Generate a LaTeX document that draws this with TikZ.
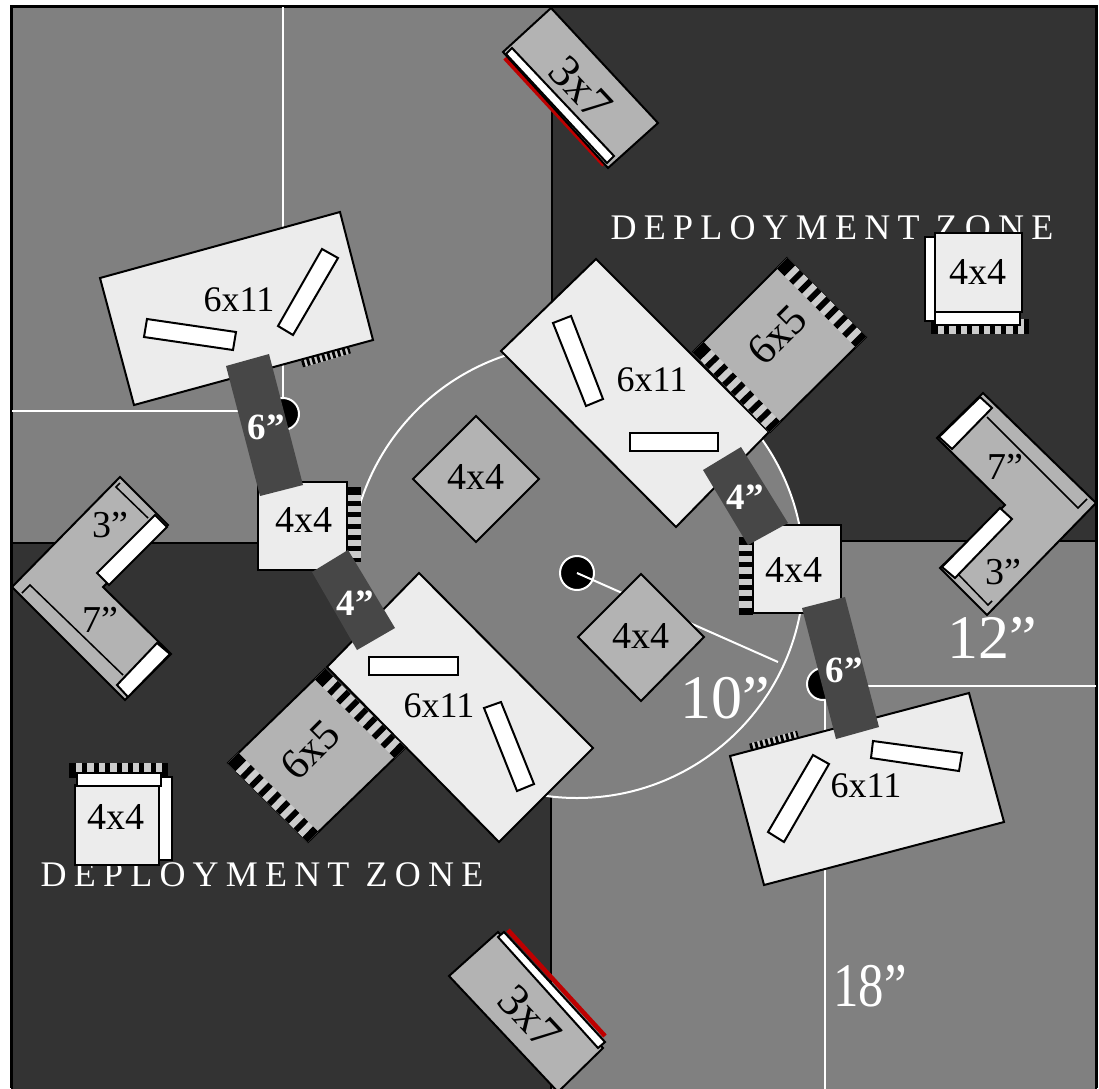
\documentclass[tikz,border=0pt]{standalone}
\usepackage{fontspec}
\setmainfont{Liberation Serif}
\newfontfamily\zonefont[LetterSpace=20]{Liberation Serif}
\definecolor{zonegrey}{HTML}{808080}
\definecolor{zonedark}{HTML}{333333}
\definecolor{matlight}{HTML}{ECECEC}
\definecolor{matmid}{HTML}{B3B3B3}
\definecolor{barlight}{HTML}{CCCCCC}
\definecolor{linkdark}{HTML}{474747}
\definecolor{redline}{HTML}{BE0000}

\begin{document}
\begin{tikzpicture}[
  x=1pt, y=-1pt,
  line join=miter,
  zonea/.style={fill=zonegrey, draw=black, line width=2pt},
  zoneb/.style={fill=zonedark, draw=black, line width=2pt},
  chalk/.style={draw=white, line width=2pt},
  dot/.style={draw=white, fill=black, line width=2pt},
  light/.style={draw=black, fill=matlight, line width=2pt},
  mid/.style={draw=black, fill=matmid, line width=2pt},
  slot/.style={draw=black, fill=white, line width=2pt},
  thin/.style={draw=black, line width=1.5pt},
  link/.style={fill=linkdark},
  red/.style={draw=redline, line width=4.5pt},
  base/.style={draw=barlight, line width=#1},
  barsbig/.style={draw=black, line width=15pt, dash pattern=on 11 off 6.5 on 5.8 off 6.7 on 5.8 off 6.7 on 5.8 off 6.7 on 5.8 off 6.7 on 5.8 off 6.7 on 5.8 off 6.7 on 5.8 off 6.7 on 20 off 20},
  barsmid/.style={draw=black, line width=14pt, dash pattern=on 8 off 6 on 5 off 6.3 on 5 off 6.3 on 5 off 6.3 on 5 off 6.3 on 5 off 6.3 on 20 off 20},
  barslong/.style={draw=black, line width=15pt, dash pattern=on 7 off 6.4 on 5 off 6.4 on 5 off 6.4 on 5 off 6.4 on 5 off 6.4 on 5 off 6.4 on 5 off 6.4 on 5 off 6.4 on 20 off 20},
  barssmall/.style={draw=black, line width=7pt, dash pattern=on 2.8 off 2.5},
  tag/.style={inner sep=0pt, font=\fontsize{38}{40}\selectfont},
  tagnarrow/.style={inner sep=0pt, font=\fontsize{36}{38}\selectfont},
  tagwall/.style={inner sep=0pt, font=\fontsize{46}{48}\selectfont},
  tagruin/.style={inner sep=0pt, font=\fontsize{43}{45}\selectfont},
  size/.style={inner sep=0pt, text=white, font=\bfseries\fontsize{37}{39}\selectfont},
  bigtag/.style={inner sep=0pt, text=white, font=\fontsize{62}{64}\selectfont},
  zone/.style={inner sep=0pt, text=white, font=\zonefont\fontsize{36}{38}\selectfont}
]
\useasboundingbox (0,0) rectangle (1099,1088);

% table quarters
\fill[black] (10,5) rectangle (1098,1088);
\draw[zonea] (12,7) rectangle (552,543);
\draw[zoneb] (552,7) rectangle (1096,541);
\draw[zoneb] (12,543) rectangle (551,1090);
\draw[zonea] (551,541) rectangle (1096,1090);
\draw[chalk] (283,7) -- (283,411) -- (12,411);
\draw[chalk] (825,1090) -- (825,686) -- (1096,686);

% ten inch ring and the three markers
\draw[chalk, fill=zonegrey] (577,571) circle (227);
\draw[dot] (283,414) circle (16);
\draw[dot] (823,684) circle (16);
\draw[dot] (577,573) circle (17);
\draw[chalk] (577,573) -- (778,662);

\node[zone] (zonetop) at (832,228) {DEPLOYMENT ZONE};
\node[zone] (zonebot) at (262,875) {DEPLOYMENT ZONE};

% top and bottom 3x7
\draw[red] (505,58) -- (604,165);
\draw[mid] (551,8) -- (658,123) -- (608,168) -- (503,52) -- cycle;
\draw[slot] (512,48) -- (614,156) -- (607,163) -- (506,54) -- cycle;
\node[tagwall, rotate=-47] (topwall) at (581,88) {3x7};
\draw[mid] (498,932) -- (449,976) -- (558,1092) -- (603,1048) -- cycle;
\draw[red] (508,930) -- (605,1036);
\draw[slot] (498,937) -- (504,932) -- (605,1042) -- (598,1048) -- cycle;
\node[tagwall, rotate=-47] (botwall) at (530,1017) {3x7};

% center diamonds
\draw[mid] (476,416) -- (539,479) -- (476,542) -- (413,479) -- cycle;
\node[tag] (centera) at (476,477) {4x4};
\draw[mid] (641,574) -- (704,637) -- (641,701) -- (578,637) -- cycle;
\node[tag] (centerb) at (641,636) {4x4};

% 4x4 beside the ring
\draw[base=14pt] (353.5,487) -- (353.5,562);
\draw[barsmid] (353.5,487) -- (353.5,562);
\draw[light] (258,482) rectangle (347,570);
\node[tag] (sidea) at (304,520) {4x4};
\draw[base=14pt] (746,537) -- (746,615);
\draw[barsmid] (746,537) -- (746,615);
\draw[light] (753,525) rectangle (841,613);
\node[tag] (sideb) at (794,570) {4x4};

% upper 6x11 pair
\draw[base=7pt] (302,364) -- (350,350);
\draw[barssmall] (302,364) -- (350,350);
\draw[light] (100,278) -- (340,212) -- (373,340) -- (134,405) -- cycle;
\draw[slot] (147,319) -- (236,332) -- (233,350) -- (144,337) -- cycle;
\draw[slot] (322,249) -- (338,258) -- (293,335) -- (278,326) -- cycle;
\node[tagnarrow] (bldga) at (239,300) {6x11};
\draw[base=7pt] (750,747) -- (798,734);
\draw[barssmall] (750,747) -- (798,734);
\draw[light] (730,756) -- (969,693) -- (1004,822) -- (764,885) -- cycle;
\draw[slot] (873,741) -- (962,753) -- (959,771) -- (871,758) -- cycle;
\draw[slot] (813,755) -- (829,764) -- (784,842) -- (768,832) -- cycle;
\node[tagnarrow] (bldgb) at (866,786) {6x11};

% 6x11 with 6x5 top right
\draw[light] (596,259) -- (769,432) -- (676,527) -- (501,351) -- cycle;
\draw[slot] (553,323) -- (571,316) -- (603,399) -- (586,406) -- cycle;
\draw[slot] (630,433) rectangle (718,451);
\node[tagnarrow] (bldgc) at (652,380) {6x11};
\draw[mid] (787,258) -- (866,337) -- (770,432) -- (693,352) -- cycle;
\draw[base=15pt] (782,263) -- (861,342);
\draw[barsbig] (782,263) -- (861,342);
\draw[base=15pt] (698,347) -- (775,427);
\draw[barsbig] (698,347) -- (775,427);
\node[tagruin, rotate=45] (ruina) at (777,335) {6x5};

% 6x11 with 6x5 bottom left
\draw[light] (419,573) -- (593,748) -- (499,842) -- (327,667) -- cycle;
\draw[slot] (369,657) rectangle (458,675);
\draw[slot] (484,708) -- (501,702) -- (534,784) -- (517,791) -- cycle;
\node[tagnarrow] (bldgd) at (439,706) {6x11};
\draw[mid] (325,669) -- (405,748) -- (308,842) -- (228,763) -- cycle;
\draw[base=15pt] (320,674) -- (400,753);
\draw[barsbig] (320,674) -- (400,753);
\draw[base=15pt] (233,758) -- (313,837);
\draw[barsbig] (233,758) -- (313,837);
\node[tagruin, rotate=45] (ruinb) at (310,750) {6x5};

% deployment 4x4s
\draw[base=15pt] (931,326.5) -- (1029,326.5);
\draw[barslong] (931,326.5) -- (1029,326.5);
\draw[slot] (925,237) rectangle (938,321);
\draw[light] (935,233) rectangle (1022,312);
\draw[slot] (935,312) rectangle (1020,325);
\node[tag] (deploya) at (978,272) {4x4};
\draw[base=15pt] (69,770.5) -- (168,770.5);
\draw[barslong] (69,770.5) -- (168,770.5);
\draw[slot] (158,777) rectangle (172,860);
\draw[light] (75,785) rectangle (159,865);
\draw[slot] (77,773) rectangle (161,786);
\node[tag] (deployb) at (116,817) {4x4};

% L walls
\draw[mid] (983,393) -- (1096,503) -- (987,615) -- (940,568) -- (1005,505) -- (937,438) -- cycle;
\draw[slot] (980,397) -- (992,408) -- (952,449) -- (939,437) -- cycle;
\draw[slot] (1000,508) -- (1012,519) -- (955,578) -- (942,567) -- cycle;
\draw[thin] (987,417) -- (1078,508) -- (1087,499);
\draw[thin] (958,574) -- (988,605) -- (992,601);
\node[tag] (ella) at (1005,467) {7”};
\node[tag] (ellb) at (1003,572) {3”};
\draw[mid] (120,477) -- (168,525) -- (103,587) -- (171,654) -- (125,700) -- (12,587) -- cycle;
\draw[slot] (155,515) -- (167,527) -- (109,585) -- (97,573) -- cycle;
\draw[slot] (157,643) -- (170,654) -- (128,697) -- (117,685) -- cycle;
\draw[thin] (22,593) -- (30,585) -- (123,675);
\draw[thin] (120,483) -- (116,487) -- (148,518);
\node[tag] (ellc) at (110,525) {3”};
\node[tag] (elld) at (100,620) {7”};

% gap pieces
\fill[link] (226,366) -- (269,354) -- (303,485) -- (260,496) -- cycle;
\node[size] (gapa) at (266,427) {6”};
\fill[link] (802,608) -- (845,597) -- (879,727) -- (836,739) -- cycle;
\node[size] (gapb) at (844,670) {6”};
\fill[link] (703,470) -- (741,447) -- (788,523) -- (748,545) -- cycle;
\node[size] (gapc) at (745,497) {4”};
\fill[link] (312,572) -- (348,550) -- (395,628) -- (357,650) -- cycle;
\node[size] (gapd) at (355,603) {4”};

\node[bigtag] (radius) at (725,698) {10”};
\node[bigtag] (edgea) at (992,638) {12”};
\node[bigtag, xscale=0.82] (edgeb) at (870,986) {18”};
\end{tikzpicture}
\end{document}
